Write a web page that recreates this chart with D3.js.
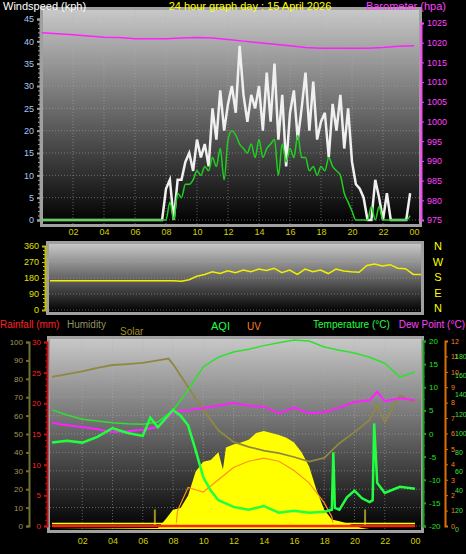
<!DOCTYPE html>
<html><head><meta charset="utf-8">
<script src="https://cdn.jsdelivr.net/npm/d3@7/dist/d3.min.js"></script>
<style>body{margin:0;background:#000}svg{display:block}text{font-family:"Liberation Sans",Arial,sans-serif}</style>
</head><body>
<svg id="c" width="466" height="554"></svg>
<script>
// ---------- DATA ----------
const hourLabels = ["02","04","06","08","10","12","14","16","18","20","22","00"];
const hourTicks = [2,4,6,8,10,12,14,16,18,20,22,24];
// 15-minute wind values (kph), 96 points
const windGust = [0,0,0,0, 0,0,0,0, 0,0,0,0, 0,0,0,0, 0,0,0,0, 0,0,0,0, 0,0,0,0, 0,0,0,0,
  7,9,0,9, 9,13,15,11, 18,14,17,12, 25,18,29,20, 26,30,24,39, 28,22,28,25, 30,20,33,22,
  35,18,28,12, 24,29,18,25, 33,20,31,18, 22,24,14,26, 20,28,16,25, 13,8,7,5, 0,0,9,5, 0,6,0,0, 0,0,0,6];
const windAvg = [0,0,0,0, 0,0,0,0, 0,0,0,0, 0,0,0,0, 0,0,0,0, 0,0,0,0, 0,0,0,0, 0,0,0,0,
  0,4,0,6, 5,8,8,9, 11,10,12,11, 14,12,16,9, 18,20,19,17, 16,15,17,14, 18,14,16,17,
  18,10,17,13, 16,14,19,14, 14,11,12,10, 12,11,14,12, 11,10,6,4, 2,0,0,0, 0,3,0,3, 0,0,0,0, 0,0,0,1];
// hourly barometer (hPa), 25 points
const baro = [1022.5,1022.3,1022,1021.7,1021.4,1021.3,1021,1021,1021,1021.2,1021.3,1021.2,1020.8,1020.4,1020,1019.6,1019.2,1018.8,1018.6,1018.6,1018.6,1018.6,1018.8,1019.1,1019.2];
// half-hourly wind direction (deg), 49 points
const windDir = [165,165,165,165,165,165,165,165,165,165,165,165,165,165,165,165,165,162,170,190,200,215,205,220,210,225,215,230,222,235,210,225,200,230,215,225,205,230,220,215,212,250,258,248,255,235,232,200,200];
// bottom panel
const tHours = [0,1,2,3,4,5,6,7,8,9,10,11,12,13,14,15,16,17,18,19,20,21,22,23,24];
const temperature = [5.1,4,3.1,2.7,2.3,2.1,2,2.5,5,9.4,14.4,16.5,17.6,18.2,19,19.6,20.2,20,18.7,18,17.4,16.5,15.2,12.2,13.3];
const dewHours = [0,1,2,3,4,5,6,7,8,9,10,11,12,13,14,15,16,17,18,19,20,21,21.5,22,23,24];
const dewPoint = [2.3,1.8,1.4,0.9,0.3,0.5,0.8,1.4,4.6,5,5.5,6,6.6,6,5.8,4.4,5.6,4.4,4.6,5.6,6.8,7.2,9,7,7.6,7.2];
const humHours = [0,1,2,3,4,5,6,7,7.7,8,9,10,11,12,13,14,15,16,17,18,19,20,21,21.5,22,23,24];
const humidity = [81,82.5,84,86,87.5,88,88.6,90,91,88,75.5,63,52,45.7,43,41,39.6,37.5,35,37,45,51,57.6,65.8,56.5,71,67];
const aqiHours = [0,1,2,3,4,5,6,6.5,7,8,8.5,9,9.5,10,10.5,11,12,13,14,15,16,17,18,18.5,18.6,18.7,19,19.5,20,20.5,21,21.2,21.3,21.5,22,23,24];
const aqi = [90,92,90,96,105,100,97,116,106,124,118,108,82,54,40,30,23,20,24,17,19,17,18,20,80,22,20,33,40,32,28,30,110,48,37.5,44,42];
const solarHours = [0,7,7.5,8,8.5,9,9.5,10,10.5,11,11.3,11.5,12,12.5,13,13.5,14,14.5,15,15.5,16,16.5,17,17.5,18,18.5,19,19.5,20,20.5,21,24];
const solar = [0,1,10,20,22,35,60,70,72,80,62,85,88,90,93,100,102,100,98,95,90,80,65,40,20,10,8,6,3,1,0,0];
const uvHours = [8.2,8.3,9,10,11,12,13,14,15,16,17,18,18.5,18.6];
const uv = [0,1,2.5,2.2,3,3.8,4.2,4.4,4.2,3.6,2.8,1.5,0.6,0];
const sunMarks = [6.8,20.7];

// ---------- DRAW ----------
const svg = d3.select("#c");
const defs = svg.append("defs");
const g = defs.append("linearGradient").attr("id","bg").attr("x1",0).attr("y1",0).attr("x2",0).attr("y2",1);
g.append("stop").attr("offset","0%").attr("stop-color","#c8c8c8");
g.append("stop").attr("offset","100%").attr("stop-color","#000");

function txt(x,y,s,col,anchor,size){return svg.append("text").attr("x",x).attr("y",y).text(s).attr("fill",col).attr("font-size",size||11).attr("text-anchor",anchor||"start");}

function panel(x0,x1,y0,y1){
  svg.append("rect").attr("x",x0-3).attr("y",y0-3).attr("width",x1-x0+6).attr("height",y1-y0+6).attr("fill","#a0a0a0");
  svg.append("rect").attr("x",x0).attr("y",y0).attr("width",x1-x0).attr("height",y1-y0).attr("fill","url(#bg)");
}
function grid(x,ys,vals,x0,x1,y0,y1,hours){
  vals.forEach(v=>svg.append("line").attr("x1",x0).attr("x2",x1).attr("y1",ys(v)).attr("y2",ys(v)).attr("stroke","#b0b0b0").attr("stroke-opacity",0.5).attr("stroke-dasharray","1,2"));
  hours.forEach(h=>svg.append("line").attr("x1",x(h)).attr("x2",x(h)).attr("y1",y0).attr("y2",y1).attr("stroke","#b0b0b0").attr("stroke-opacity",0.5).attr("stroke-dasharray","1,2"));
}
function axis(scale,xpos,side,vals,col,minor,lineCol,fs){
  const a = (side==="left"?d3.axisLeft(scale):d3.axisRight(scale)).tickValues(vals).tickSize(3).tickPadding(3).tickFormat(d=>d);
  const gg = svg.append("g").attr("transform",`translate(${xpos},0)`).call(a);
  gg.selectAll("text").attr("fill",col).attr("font-size",fs||9);
  gg.selectAll("line").attr("stroke",lineCol||col).attr("stroke-width",2);
  gg.select(".domain").attr("stroke",lineCol||col).attr("stroke-width",2);
  if(minor){const m=(side==="left"?d3.axisLeft(scale):d3.axisRight(scale)).tickValues(minor).tickSize(2).tickFormat("");
    const mg=svg.append("g").attr("transform",`translate(${xpos},0)`).call(m);
    mg.selectAll("line").attr("stroke",lineCol||col);mg.select(".domain").remove();}
  return gg;
}

// ---- top panel ----
const X1 = d3.scaleLinear().domain([0,24]).range([42,414]);
const Yw = d3.scaleLinear().domain([0,45]).range([220,19]);
const Yb = d3.scaleLinear().domain([975,1025]).range([220,23]);
panel(43,419,10,224);
grid(X1,Yw,d3.range(0,46,5),43,419,10,224,hourTicks.slice(0,11));
axis(Yw,40,"left",d3.range(0,46,5),"#a8c8f0",d3.range(0,46,1),"#a0a0a0");
axis(Yb,421,"right",d3.range(975,1026,5),"#ff40ff",null,"#ff40ff").selectAll("line").attr("stroke-width",1);
const xa1 = svg.append("g").attr("transform","translate(0,226)").call(d3.axisBottom(X1).tickValues(hourTicks).tickSize(0).tickFormat((d,i)=>hourLabels[i]));
xa1.select(".domain").remove(); xa1.selectAll("text").attr("fill","#d0d000").attr("font-size",9);
const q = d3.range(96).map(i=>i/4);
svg.append("path").datum(windGust).attr("d",d3.line().x((d,i)=>X1(q[i])).y(d=>Yw(d))).attr("fill","none").attr("stroke","#f0f0f0").attr("stroke-width",2.5);
svg.append("path").datum(windAvg).attr("d",d3.line().x((d,i)=>X1(q[i])).y(d=>Yw(d)).curve(d3.curveMonotoneX)).attr("fill","none").attr("stroke","#20d020").attr("stroke-width",1.5);
svg.append("path").datum(baro).attr("d",d3.line().x((d,i)=>X1(i)).y(d=>Yb(d))).attr("fill","none").attr("stroke","#ff20ff").attr("stroke-width",1.5);
txt(3,10,"Windspeed (kph)","#fff");
txt(250,10,"24 hour graph day : 15 April 2026","#ffff00","middle");
txt(446,10,"Barometer (hpa)","#ff40ff","end");

// ---- middle panel ----
const X2 = d3.scaleLinear().domain([0,24]).range([50,421]);
const Yd = d3.scaleLinear().domain([0,360]).range([310,246]);
panel(49,421,244,312);
grid(X2,Yd,[0,90,180,270,360],49,421,244,312,[]);
axis(Yd,45,"left",[0,90,180,270,360],"#e0e000",d3.range(0,361,22.5),"#c0c000").selectAll("line").attr("stroke-width",1);
svg.append("path").datum(windDir).attr("d",d3.line().x((d,i)=>X2(i/2)).y(d=>Yd(d))).attr("fill","none").attr("stroke","#f0f000").attr("stroke-width",1.5);
["N","W","S","E","N"].forEach((s,i)=>txt(438,250+i*15.5,s,"#ffff00","middle",11));

// ---- bottom panel ----
const X3 = d3.scaleLinear().domain([0,24]).range([52,415]);
const Yh = d3.scaleLinear().domain([0,100]).range([526,342]);
const Yr = d3.scaleLinear().domain([0,30]).range([526,342]);
const Yt = d3.scaleLinear().domain([-20,20]).range([526,341]);
const Ys = d3.scaleLinear().domain([0,200]).range([529,337]);
const Yu = d3.scaleLinear().domain([0,12]).range([526,341]);
panel(50,421,339,530);
grid(X3,Yh,d3.range(0,101,10),50,421,339,530,hourTicks.slice(0,11));
axis(Yh,29,"left",d3.range(0,101,10),"#a09850",null,"#707030",8);
axis(Yr,47,"left",d3.range(0,31,5),"#ff2020",d3.range(0,31,1),"#c01010",8);
axis(Yt,423,"right",d3.range(-20,21,5),"#20e020",d3.range(-20,21,2.5),"#20a020",8);
axis(Yu,445,"right",d3.range(0,13,1),"#ff8020",null,"#e07000",7).selectAll("line").attr("stroke-width",1);
const ax = axis(Ys,449,"right",d3.range(0,201,20).filter(d=>d!==200),"#40e040",null,"#e07000",7);
ax.select(".domain").remove(); ax.selectAll("line").remove();
const xa3 = svg.append("g").attr("transform","translate(0,535)").call(d3.axisBottom(X3).tickValues(hourTicks).tickSize(0).tickFormat((d,i)=>hourLabels[i]));
xa3.select(".domain").remove(); xa3.selectAll("text").attr("fill","#d0d000").attr("font-size",9);

svg.append("path").datum(solar).attr("d",d3.area().x((d,i)=>X3(solarHours[i])).y0(Ys(0)).y1(d=>Ys(d))).attr("fill","#ffff00");
sunMarks.forEach(h=>svg.append("line").attr("x1",X3(h)).attr("x2",X3(h)).attr("y1",Yh(0)).attr("y2",Yh(9)).attr("stroke","#a09020").attr("stroke-width",2));
function ln(xs,data,sy,col,w){svg.append("path").datum(data).attr("d",d3.line().x((d,i)=>X3(xs[i])).y(d=>sy(d))).attr("fill","none").attr("stroke",col).attr("stroke-width",w||1.5);}
ln(uvHours,uv,Yu,"#ff9020",1.2);
ln(humHours,humidity,Yh,"#908840",1.8);
ln(dewHours,dewPoint,Yt,"#ff20ff",2);
ln(tHours,temperature,Yt,"#30e030",1.5);
ln(aqiHours,aqi,Ys,"#20ff40",2.5);
svg.append("line").attr("x1",52).attr("x2",415).attr("y1",Yr(0)).attr("y2",Yr(0)).attr("stroke","#ff2000").attr("stroke-width",2.5);
svg.append("line").attr("x1",52).attr("x2",415).attr("y1",Yr(0)-2.5).attr("y2",Yr(0)-2.5).attr("stroke","#ffff00").attr("stroke-width",1.5);

txt(0,328,"Rainfall (mm)","#ff2020","start",10);
txt(67,328,"Humidity","#909060","start",10);
txt(120,335,"Solar","#a09020","start",10);
txt(211,330,"AQI","#20ff40","start",11).attr("font-family","DejaVu Sans Mono");
txt(247,330,"UV","#ff8020","start",10);
txt(313,328,"Temperature (°C)","#20ff40","start",10);
txt(465,328,"Dew Point (°C)","#ff40ff","end",10);
</script></body></html>
